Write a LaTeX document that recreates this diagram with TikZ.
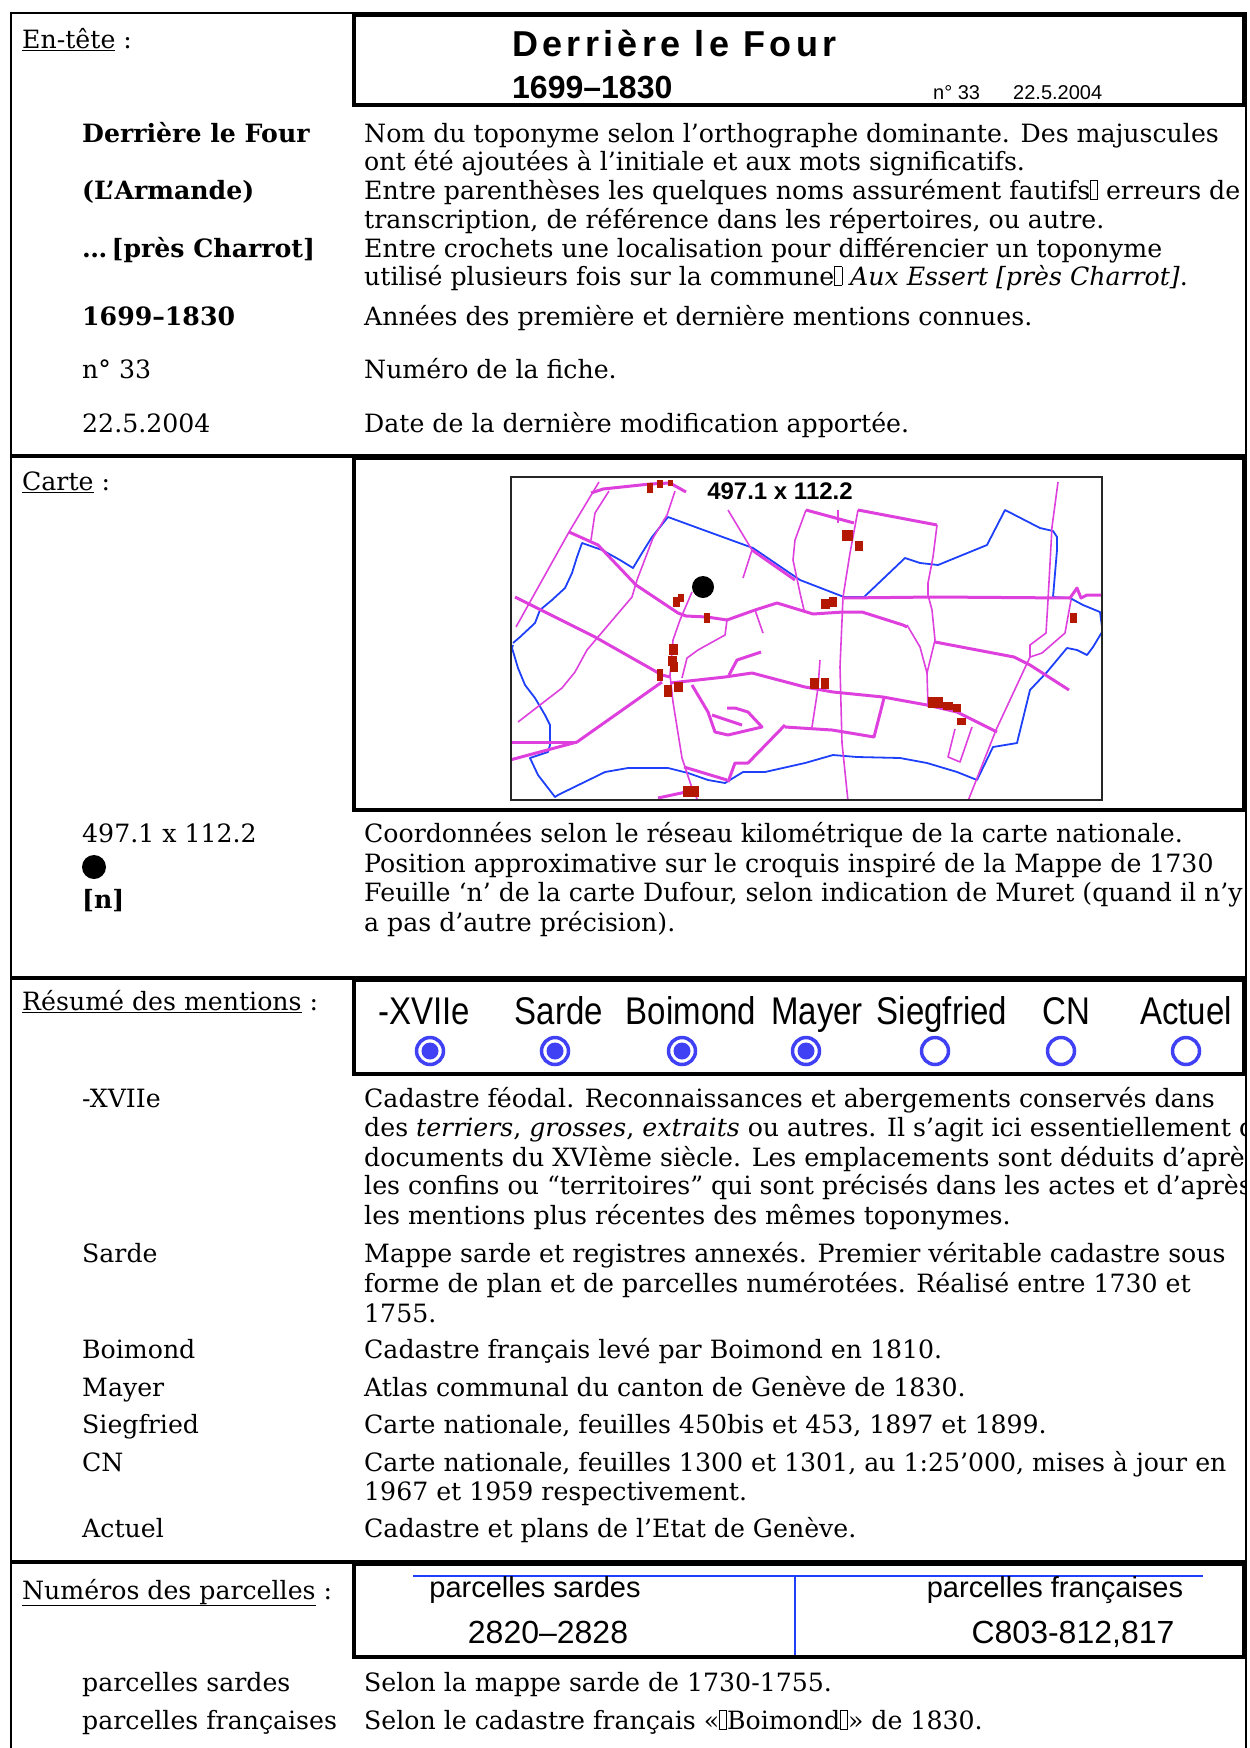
\documentclass[tikz,border=0pt]{standalone}
\usepackage{fontspec}
\setmainfont{DejaVu Serif}
\newfontfamily\sansfont{Liberation Sans}
\usetikzlibrary{positioning}
\definecolor{roadmag}{RGB}{222,64,222}
\definecolor{riverblue}{RGB}{30,64,250}
\definecolor{housered}{RGB}{180,24,0}
\definecolor{radioblue}{RGB}{64,64,245}
\newcommand{\tofu}{{\fboxsep=0pt\fboxrule=0.6pt\fbox{\rule{0pt}{0.72em}\hspace{0.26em}}}}
\newcommand{\tallsans}[1]{\scalebox{1}[1.17]{#1}}
\tikzset{
  txt/.style={anchor=base west, inner sep=0pt, font=\fontsize{25.2}{28}\selectfont},
  btxt/.style={txt, font=\fontsize{25.2}{28}\selectfont\bfseries},
  boxline/.style={line width=4.5pt},
  road/.style={draw=roadmag, line width=3pt, line join=round},
  lane/.style={draw=roadmag, line width=1.6pt, line join=round},
  river/.style={draw=riverblue, line width=1.8pt, line join=round},
  house/.style={fill=housered},
  radiooff/.style={circle, draw=radioblue, line width=3.5pt, fill=white, minimum size=27pt, inner sep=0pt},
  radioon/.style={radiooff, path picture={\fill[radioblue] (path picture bounding box.center) circle (8.5pt);}},
  mention/.style={anchor=base, inner sep=0pt, font=\sansfont\fontsize{33}{35}\selectfont},
  boxsans/.style={anchor=base, inner sep=0pt, font=\sansfont\fontsize{29}{30}\selectfont},
}
\begin{document}
\begin{tikzpicture}[x=1pt,y=-1pt]
\useasboundingbox (0,0) rectangle (1250,1748);
% outer frame and section rules
\draw[line width=2pt] (11,1750) -- (11,13) -- (1246,13) -- (1246,1750);
\draw[line width=4pt] (11,456) -- (1246,456);
\draw[line width=4pt] (11,978) -- (1246,978);
\draw[line width=4pt] (11,1562) -- (1246,1562);

% ---- En-tete
\node[txt] (enhead) at (22,48) {\underline{En-tête} :};
\draw[boxline] (354,15) rectangle (1244,105);
\node[anchor=base west, inner sep=0pt, font=\sansfont\bfseries\fontsize{36}{37}\selectfont\addfontfeatures{LetterSpace=12}] (title) at (512,56) {Derrière le Four};
\node[anchor=base west, inner sep=0pt, font=\sansfont\bfseries\fontsize{32}{33}\selectfont] (years) at (512,98) {1699–1830};
\node[anchor=base west, inner sep=0pt, font=\sansfont\fontsize{20}{21}\selectfont] (fiche) at (933,99) {n° 33};
\node[anchor=base west, inner sep=0pt, font=\sansfont\fontsize{20}{21}\selectfont] (datum) at (1013,99) {22.5.2004};

\begin{scope}
\clip (0,0) rectangle (1246,1748);
\node[btxt] (k1) at (82,142) {Derrière le Four};
\node[btxt] (k2) at (82,199) {(L’Armande)};
\node[btxt] (k3) at (82,257) {…\,[près Charrot]};
\node[btxt] (k4) at (82,325) {1699–1830};
\node[txt] (k5) at (82,378) {n° 33};
\node[txt] (k6) at (82,432) {22.5.2004};
\node[txt] (d1a) at (364,142) {Nom du toponyme selon l’orthographe dominante. Des majuscules};
\node[txt] (d1b) at (364,170) {ont été ajoutées à l’initiale et aux mots significatifs.};
\node[txt] (d2a) at (364,199) {Entre parenthèses les quelques noms assurément fautifs\tofu{} erreurs de};
\node[txt] (d2b) at (364,228) {transcription, de référence dans les répertoires, ou autre.};
\node[txt] (d3a) at (364,257) {Entre crochets une localisation pour différencier un toponyme};
\node[txt] (d3b) at (364,285) {utilisé plusieurs fois sur la commune\tofu{} \textit{Aux Essert [près Charrot]}.};
\node[txt] (d4) at (364,325) {Années des première et dernière mentions connues.};
\node[txt] (d5) at (364,378) {Numéro de la fiche.};
\node[txt] (d6) at (364,432) {Date de la dernière modification apportée.};

% ---- Carte
\node[txt] (carhead) at (22,490) {\underline{Carte} :};
\node[txt] (c1) at (82,842) {497.1 x 112.2};
\fill (94,867) circle (12pt);
\node[btxt] (c3) at (82,908) {[n]};
\node[txt] (e1) at (364,842) {Coordonnées selon le réseau kilométrique de la carte nationale.};
\node[txt] (e2) at (364,872) {Position approximative sur le croquis inspiré de la Mappe de 1730};
\node[txt] (e3a) at (364,901) {Feuille ‘n’ de la carte Dufour, selon indication de Muret (quand il n’y};
\node[txt] (e3b) at (364,931) {a pas d’autre précision).};

% ---- Resume
\node[txt] (reshead) at (22,1010) {\underline{Résumé des mentions} :};
\node[txt] (m1) at (82,1107) {-XVIIe};
\node[txt] (m2) at (82,1262) {Sarde};
\node[txt] (m3) at (82,1358) {Boimond};
\node[txt] (m4) at (82,1396) {Mayer};
\node[txt] (m5) at (82,1433) {Siegfried};
\node[txt] (m6) at (82,1471) {CN};
\node[txt] (m7) at (82,1537) {Actuel};
\node[txt] (f1a) at (364,1107) {Cadastre féodal. Reconnaissances et abergements conservés dans};
\node[txt] (f1b) at (364,1136) {des \textit{terriers}, \textit{grosses}, \textit{extraits} ou autres. Il s’agit ici essentiellement de};
\node[txt] (f1c) at (364,1166) {documents du XVIème siècle. Les emplacements sont déduits d’après};
\node[txt] (f1d) at (364,1194) {les confins ou “territoires” qui sont précisés dans les actes et d’après};
\node[txt] (f1e) at (364,1224) {les mentions plus récentes des mêmes toponymes.};
\node[txt] (f2a) at (364,1262) {Mappe sarde et registres annexés. Premier véritable cadastre sous};
\node[txt] (f2b) at (364,1292) {forme de plan et de parcelles numérotées. Réalisé entre 1730 et};
\node[txt] (f2c) at (364,1322) {1755.};
\node[txt] (f3) at (364,1358) {Cadastre français levé par Boimond en 1810.};
\node[txt] (f4) at (364,1396) {Atlas communal du canton de Genève de 1830.};
\node[txt] (f5) at (364,1433) {Carte nationale, feuilles 450bis et 453, 1897 et 1899.};
\node[txt] (f6a) at (364,1471) {Carte nationale, feuilles 1300 et 1301, au 1:25’000, mises à jour en};
\node[txt] (f6b) at (364,1500) {1967 et 1959 respectivement.};
\node[txt] (f7) at (364,1537) {Cadastre et plans de l’Etat de Genève.};

% ---- Parcelles
\node[txt] (parhead) at (22,1599) {\underline{Numéros des parcelles} :};
\node[txt] (p1) at (82,1691) {parcelles sardes};
\node[txt] (p2) at (82,1729) {parcelles françaises};
\node[txt] (g1) at (364,1691) {Selon la mappe sarde de 1730-1755.};
\node[txt] (g2) at (364,1729) {Selon le cadastre français «\tofu{}Boimond\tofu{}» de 1830.};
\end{scope}

% map
\draw[boxline] (354,458) rectangle (1244,810);
\begin{scope}[shift={(510,477)}]
\clip (0,0) rectangle (592,323);
% rivers
\draw[river] (3,166) -- (10,160) -- (25,146) -- (30,133) -- (42,123) -- (55,111) -- (62,96) -- (67,80) -- (72,66) -- (92,73) -- (110,83) -- (123,91) -- (132,76) -- (142,60) -- (158,40) -- (188,51) -- (243,71) -- (290,103) -- (334,120) -- (354,120) -- (395,81) -- (410,86) -- (428,88) -- (477,68) -- (495,33) -- (530,51) -- (543,54) -- (547,60) -- (547,73) -- (543,120) -- (560,121) -- (573,128) -- (590,135) -- (592,150);
\draw[river] (3,168) -- (2,171) -- (8,191) -- (15,208) -- (25,221) -- (35,238) -- (40,248) -- (40,268) -- (38,275) -- (20,281) -- (28,298) -- (45,320) -- (48,318) -- (95,295) -- (118,291) -- (158,291) -- (178,296) -- (198,303) -- (215,306) -- (233,295) -- (255,295) -- (295,286) -- (323,278) -- (347,280) -- (390,281) -- (417,286) -- (447,295) -- (467,303) -- (483,270) -- (507,266) -- (520,213) -- (537,195) -- (557,171) -- (567,173) -- (577,178) -- (583,170) -- (592,155);
% roads
\draw[road] (81,16) -- (93,12) -- (140,7) -- (160,6) -- (176,15);
\draw[road] (59,55) -- (88,68) -- (126,108) -- (168,136) -- (176,139) -- (197,140) -- (217,143) -- (245,133) -- (267,126) -- (290,133) -- (303,137) -- (333,135) -- (352,135) -- (393,148) -- (397,150);
\draw[road] (334,121) -- (425,120) -- (560,121) -- (567,111) -- (571,121) -- (577,118) -- (592,118);
\draw[road] (5,120) -- (15,125) -- (85,160) -- (152,198) -- (160,200);
\draw[road] (0,265) -- (67,265);
\draw[road] (0,283) -- (67,265) -- (152,205);
\draw[road] (160,206) -- (215,200) -- (242,196) -- (295,210) -- (323,215) -- (373,220) -- (417,228) -- (447,235) -- (487,255);
\draw[road] (275,250) -- (322,253) -- (364,260) -- (374,221);
\draw[road] (425,165) -- (504,180) -- (520,188) -- (559,213);
\draw[road] (174,290) -- (217,303);
\draw[road] (148,321) -- (176,315);
\draw[road] (242,73) -- (285,103);
\draw[road] (296,33) -- (344,46);
\draw[road] (348,33) -- (427,48);
\draw[road] (219,198) -- (227,183) -- (251,175);
\draw[road] (275,248) -- (238,286) -- (225,286) -- (218,305);
\draw[road] (182,208) -- (198,235) -- (205,255) -- (218,258) -- (252,250) -- (238,235) -- (225,231) -- (217,231);
\draw[road] (202,238) -- (232,248);
% lanes
\draw[lane] (6,150) -- (59,55) -- (89,5);
\draw[lane] (99,14) -- (85,36) -- (81,63);
\draw[lane] (165,14) -- (157,38) -- (143,61) -- (127,103) -- (122,120) -- (88,160) -- (77,173) -- (65,195) -- (52,211) -- (8,245);
\draw[lane] (182,115) -- (170,143) -- (163,163) -- (160,198) -- (163,225) -- (172,281) -- (182,311) -- (188,324);
\draw[lane] (296,33) -- (285,63) -- (283,83) -- (290,116) -- (294,133);
\draw[lane] (348,33) -- (340,76) -- (333,120) -- (330,190) -- (332,266) -- (338,324);
\draw[lane] (427,48) -- (423,80) -- (418,106) -- (418,118) -- (422,133) -- (425,163) -- (417,196) -- (418,230);
\draw[lane] (548,5) -- (542,50) -- (538,123) -- (536,156) -- (520,168) -- (520,180) -- (486,253) -- (458,324);
\draw[lane] (561,123) -- (555,156) -- (532,176) -- (520,180);
\draw[lane] (310,183) -- (308,211) -- (302,250);
\draw[lane] (172,201) -- (177,181) -- (188,173) -- (215,158) -- (217,143);
\draw[lane] (245,133) -- (253,156);
\draw[lane] (218,33) -- (242,73) -- (233,101);
\draw[lane] (328,33) -- (328,46);
\draw[lane] (445,252) -- (438,280) -- (450,285) -- (462,250);
\draw[lane] (397,148) -- (410,170) -- (417,196);
% houses
\foreach \ax/\ay/\bx/\by in {137/6/143/16, 147/3/153/11, 158/3/163/9, 163/120/170/130, 168/117/174/125, 194/136/200/146, 332/53/343/64, 345/64/353/74, 311/122/320/132, 319/120/327/130, 560/136/567/146, 159/167/168/178, 158/179/167/189, 160/185/168/195, 147/192/153/204, 154/208/162/220, 164/205/173/215, 173/309/189/320, 300/201/309/212, 311/201/319/212, 418/220/433/231, 433/225/443/233, 443/227/451/235, 447/241/456/248}
  \fill[house] (\ax,\ay) rectangle (\bx,\by);
\fill (193,110) circle (11pt);
\end{scope}
\draw[line width=2.5pt, black!85] (511,477) rectangle (1102,800);
\node[anchor=base, inner sep=0pt, font=\sansfont\bfseries\fontsize{24}{25}\selectfont] (maptitle) at (780,499) {497.1 x 112.2};

% ---- Resume box
\draw[boxline] (354,980) rectangle (1244,1074);
\node[mention] (hxvii) at (424,1024) {\tallsans{-XVIIe}};
\node[mention] (hsarde) at (559,1024) {\tallsans{Sarde}};
\node[mention] (hboim) at (691,1024) {\tallsans{Boimond}};
\node[mention] (hmayer) at (817,1024) {\tallsans{Mayer}};
\node[mention] (hsieg) at (942,1024) {\tallsans{Siegfried}};
\node[mention] (hcn) at (1066,1024) {\tallsans{CN}};
\node[mention] (hact) at (1186,1024) {\tallsans{Actuel}};
\node[radioon] (r1) at (430,1051) {};
\node[radioon] (r2) at (555,1051) {};
\node[radioon] (r3) at (682,1051) {};
\node[radioon] (r4) at (806,1051) {};
\node[radiooff] (r5) at (935,1051) {};
\node[radiooff] (r6) at (1061,1051) {};
\node[radiooff] (r7) at (1186,1051) {};

% ---- Parcelles box
\draw[boxline] (354,1564) rectangle (1244,1657);
\draw[riverblue, line width=1.5pt] (413,1576) -- (1203,1576);
\coordinate (splittop) at (795,1576);
\coordinate (splitbot) at (795,1655);
\draw[riverblue, line width=1.5pt] (splittop) -- (splitbot);
\node[boxsans] (psard) at (535,1597) {parcelles sardes};
\node[boxsans] (pfran) at (1055,1597) {parcelles françaises};
\node[boxsans, font=\sansfont\fontsize{32}{33}\selectfont] (nsard) at (548,1643) {2820–2828};
\node[boxsans, font=\sansfont\fontsize{32}{33}\selectfont] (nfran) at (1073,1643) {C803-812,817};
\end{tikzpicture}
\end{document}
